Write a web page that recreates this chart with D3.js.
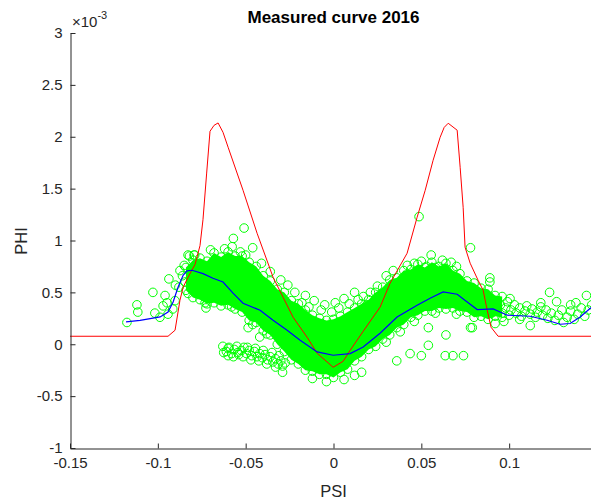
<!DOCTYPE html>
<html>
<head>
<meta charset="utf-8">
<script src="https://cdn.jsdelivr.net/npm/d3@7"></script>
<style>
body { margin: 0; background: #fff; }
text { font-family: "Liberation Sans", Arial, sans-serif; }
</style>
</head>
<body>
<svg id="chart"></svg>
<script>
// PHI values are stored in units of 1e-3 (the axis shows the x10^-3 multiplier)
const xTicks = [-0.15, -0.1, -0.05, 0, 0.05, 0.1];
const yTicks = [-1, -0.5, 0, 0.5, 1, 1.5, 2, 2.5, 3];

// red model curve
const redX = [-0.15, -0.0942, -0.0902, -0.0874, -0.0856, -0.0828, -0.0788, -0.0760, -0.0743, -0.0722, -0.0703, -0.0680, -0.0657, -0.0629, -0.0600, -0.0515, -0.0435, -0.0344, -0.0287, -0.0230, -0.0150, -0.0093, -0.0002, 0.0055, 0.0095, 0.0169, 0.0265, 0.0322, 0.0419, 0.0476, 0.0522, 0.0567, 0.0607, 0.0630, 0.0653, 0.0704, 0.0721, 0.0738, 0.0749, 0.0778, 0.0823, 0.0852, 0.0875, 0.0897, 0.0937, 0.15];
const redY = [0.077, 0.077, 0.135, 0.424, 0.549, 0.646, 0.77, 0.95, 1.20, 1.65, 2.053, 2.11, 2.133, 2.043, 1.899, 1.484, 1.070, 0.646, 0.453, 0.260, 0.067, -0.087, -0.222, -0.164, -0.058, 0.125, 0.357, 0.588, 0.877, 1.224, 1.484, 1.773, 1.995, 2.09, 2.130, 2.063, 1.706, 1.320, 0.935, 0.781, 0.617, 0.520, 0.328, 0.164, 0.077, 0.077];

// blue smoothed measurement
const blueX = [-0.1181, -0.1101, -0.0987, -0.0942, -0.0913, -0.0885, -0.0856, -0.0834, -0.0805, -0.0743, -0.0686, -0.0629, -0.0572, -0.0515, -0.0418, -0.0344, -0.0264, -0.0190, -0.0093, -0.0002, 0.0095, 0.0169, 0.0265, 0.0362, 0.0476, 0.0550, 0.0624, 0.0704, 0.0761, 0.0818, 0.0909, 0.0989, 0.1120, 0.1216, 0.1290, 0.1347, 0.1404, 0.1467];
const blueY = [0.215, 0.231, 0.263, 0.311, 0.408, 0.549, 0.665, 0.707, 0.713, 0.681, 0.636, 0.600, 0.492, 0.395, 0.328, 0.231, 0.135, 0.039, -0.074, -0.106, -0.090, -0.026, 0.106, 0.263, 0.376, 0.443, 0.504, 0.482, 0.408, 0.334, 0.340, 0.280, 0.270, 0.231, 0.193, 0.200, 0.263, 0.354];

// dense part of the measured cloud: upper / lower edges
const bandX = [-0.084, -0.080, -0.076, -0.072, -0.068, -0.064, -0.060, -0.056, -0.052, -0.048, -0.044, -0.040, -0.036, -0.032, -0.028, -0.024, -0.020, -0.016, -0.012, -0.008, -0.004, 0, 0.004, 0.008, 0.012, 0.016, 0.020, 0.024, 0.028, 0.032, 0.036, 0.040, 0.044, 0.048, 0.052, 0.056, 0.060, 0.064, 0.068, 0.072, 0.076, 0.080, 0.084, 0.088, 0.092, 0.096];
const bandUpper = [0.74, 0.81, 0.83, 0.80, 0.88, 0.84, 0.89, 0.85, 0.85, 0.79, 0.75, 0.66, 0.61, 0.53, 0.50, 0.42, 0.39, 0.33, 0.28, 0.25, 0.23, 0.24, 0.27, 0.31, 0.35, 0.39, 0.43, 0.50, 0.55, 0.62, 0.64, 0.71, 0.72, 0.77, 0.74, 0.79, 0.75, 0.78, 0.71, 0.68, 0.61, 0.59, 0.54, 0.53, 0.47, 0.46];
const bandLower = [0.52, 0.45, 0.43, 0.39, 0.40, 0.37, 0.38, 0.34, 0.31, 0.23, 0.21, 0.13, 0.09, 0.00, -0.07, -0.15, -0.19, -0.25, -0.26, -0.29, -0.29, -0.32, -0.27, -0.24, -0.16, -0.12, -0.05, -0.02, 0.05, 0.09, 0.16, 0.19, 0.26, 0.28, 0.32, 0.32, 0.35, 0.34, 0.35, 0.32, 0.31, 0.26, 0.27, 0.24, 0.27, 0.26];

// single circles around the dense part
const leftPts = [[-0.1176, 0.21], [-0.1119, 0.38], [-0.1114, 0.31], [-0.1028, 0.50], [-0.1017, 0.30], [-0.0988, 0.26], [-0.0959, 0.47], [-0.0948, 0.40], [-0.0937, 0.63], [-0.0942, 0.29], [-0.0902, 0.42], [-0.0874, 0.71], [-0.0828, 0.86], [-0.0794, 0.86], [-0.0828, 0.49], [-0.0737, 0.49], [-0.0731, 0.40], [-0.0726, 0.35], [-0.0880, 0.55], [-0.0860, 0.66], [-0.0850, 0.76], [-0.0900, 0.57], [-0.0845, 0.60], [-0.0915, 0.34], [-0.0970, 0.37]];
const lowerBranch = [[-0.0630, -0.02], [-0.0610, -0.07], [-0.0595, -0.03], [-0.0580, -0.09], [-0.0565, -0.05], [-0.0550, -0.02], [-0.0540, -0.10], [-0.0525, -0.06], [-0.0510, -0.03], [-0.0495, -0.09], [-0.0480, -0.06], [-0.0465, -0.11], [-0.0450, -0.07], [-0.0435, -0.12], [-0.0420, -0.09], [-0.0405, -0.13], [-0.0390, -0.10], [-0.0375, -0.15], [-0.0360, -0.12], [-0.0345, -0.17], [-0.0330, -0.14], [-0.0315, -0.19], [-0.0300, -0.16], [-0.0290, -0.21], [-0.0275, -0.18], [-0.0290, -0.27], [-0.0600, -0.11], [-0.0625, -0.08], [-0.0600, -0.04], [-0.0570, -0.12], [-0.0545, -0.08], [-0.0515, -0.12], [-0.0490, -0.03], [-0.0470, -0.15], [-0.0445, -0.04], [-0.0425, -0.16], [-0.0400, -0.06], [-0.0380, -0.19], [-0.0350, -0.08], [-0.0330, -0.22], [-0.0310, -0.11]];
const rightPts = [[0.086, 0.42], [0.088, 0.36], [0.090, 0.30], [0.091, 0.40], [0.093, 0.33], [0.095, 0.38], [0.096, 0.30], [0.098, 0.35], [0.099, 0.41], [0.100, 0.28], [0.101, 0.33], [0.103, 0.38], [0.104, 0.30], [0.106, 0.35], [0.107, 0.27], [0.109, 0.32], [0.110, 0.37], [0.112, 0.29], [0.113, 0.34], [0.115, 0.26], [0.116, 0.31], [0.118, 0.36], [0.119, 0.28], [0.121, 0.33], [0.122, 0.25], [0.124, 0.30], [0.126, 0.23], [0.128, 0.28], [0.130, 0.33], [0.131, 0.21], [0.133, 0.26], [0.135, 0.32], [0.137, 0.24], [0.139, 0.29], [0.141, 0.35], [0.143, 0.27], [0.145, 0.33], [0.147, 0.38], [0.112, 0.18], [0.1005, 0.44], [0.118, 0.40], [0.123, 0.50], [0.127, 0.41], [0.135, 0.38], [0.138, 0.40], [0.144, 0.47], [0.089, 0.60], [0.079, 0.16], [0.097, 0.22], [0.106, 0.24], [0.092, 0.20]];
const outliers = [[-0.0509, 1.12], [-0.057, 1.02], [-0.0577, 0.94], [-0.046, 0.93], [-0.053, 0.89], [-0.082, 0.85], [-0.079, 0.86], [0.0487, 1.23], [0.078, 0.93], [0.0556, 0.86], [0.046, 0.78], [0.067, 0.79], [0.053, 0.75], [0.058, 0.74], [0.089, 0.64], [0.0436, -0.09], [0.050, -0.11], [0.0636, -0.11], [0.068, -0.11], [0.074, -0.11], [0.036, -0.16], [0.054, -0.01], [0.054, 0.16], [0.064, 0.09], [0.078, 0.16], [0.016, -0.27], [-0.030, 0.62], [-0.026, 0.57], [-0.022, 0.50], [-0.016, 0.47], [-0.011, 0.42], [-0.005, 0.38], [0.001, 0.40], [0.006, 0.44], [0.012, 0.50], [0.017, 0.46], [-0.036, 0.70], [-0.041, 0.78], [0.030, 0.66], [0.034, 0.71], [-0.0486, 0.16], [-0.058, 0.36], [-0.042, 0.07], [-0.012, -0.33], [-0.004, -0.36], [0.006, -0.34], [0.012, -0.30], [-0.014, 0.36], [-0.007, 0.33], [-0.001, 0.31], [0.003, 0.35], [0.009, 0.39], [0.014, 0.43], [0.021, 0.50], [0.025, 0.56], [-0.018, 0.40], [0.019, 0.38], [0.027, 0.45], [-0.070, 0.91], [-0.062, 0.92], [-0.050, 0.86], [0.042, 0.76], [0.050, 0.80], [0.062, 0.81], [0.070, 0.75], [-0.046, 0.19], [-0.038, 0.10], [0.030, 0.02], [0.038, 0.12], [0.046, 0.22], [0.058, 0.30], [0.070, 0.29]];

const width = 591, height = 502;
const svg = d3.select("#chart").attr("width", width).attr("height", height);

const x = d3.scaleLinear().domain([-0.15, 0.15]).range([70, 597]);
const y = d3.scaleLinear().domain([-1, 3]).range([448, 33]);

svg.append("defs").append("clipPath").attr("id", "plotClip")
    .append("rect").attr("x", 70).attr("y", 33).attr("width", 527).attr("height", 415);

const plot = svg.append("g").attr("clip-path", "url(#plotClip)");

// dense cloud as filled band
const band = bandX.map((d, i) => ({ x: d, hi: bandUpper[i], lo: bandLower[i] }));
plot.append("path")
    .datum(band)
    .attr("fill", "#00ff00")
    .attr("d", d3.area().x(d => x(d.x)).y0(d => y(d.lo)).y1(d => y(d.hi)));

// circles
const circlePts = []
    .concat(band.map(d => [d.x, d.hi]))
    .concat(band.map(d => [d.x, d.lo]))
    .concat(leftPts, lowerBranch, rightPts, outliers);

plot.selectAll(".pt")
    .data(circlePts)
    .enter()
    .append("circle")
    .attr("class", "pt")
    .attr("cx", d => x(d[0]))
    .attr("cy", d => y(d[1]))
    .attr("r", 4.3)
    .attr("fill", "none")
    .attr("stroke", "#00ff00")
    .attr("stroke-width", 1);

const line = d3.line().x(d => x(d[0])).y(d => y(d[1]));

plot.append("path")
    .datum(redX.map((d, i) => [d, redY[i]]))
    .attr("fill", "none")
    .attr("stroke", "#ff0000")
    .attr("stroke-width", 1)
    .attr("d", line);

plot.append("path")
    .datum(blueX.map((d, i) => [d, blueY[i]]))
    .attr("fill", "none")
    .attr("stroke", "#0000ff")
    .attr("stroke-width", 1.2)
    .attr("d", line);

// axes, ticks pointing inward like MATLAB
const axisColor = "#262626";

const xAxis = svg.append("g")
    .attr("transform", `translate(0,${448.5})`)
    .call(d3.axisBottom(x).tickValues(xTicks).tickSizeInner(-5).tickSizeOuter(0).tickPadding(9).tickFormat(d => String(d)));

const yAxis = svg.append("g")
    .attr("transform", `translate(${70.5},0)`)
    .call(d3.axisLeft(y).tickValues(yTicks).tickSizeInner(-5).tickSizeOuter(0).tickPadding(8).tickFormat(d => String(d)));

[xAxis, yAxis].forEach(g => {
    g.selectAll("path").attr("stroke", axisColor);
    g.selectAll("line").attr("stroke", axisColor);
    g.selectAll("text")
        .attr("fill", axisColor)
        .style("font-size", "15px")
        .style("font-family", "'Liberation Sans', Arial, sans-serif");
});

// exponent label
const expo = svg.append("text")
    .attr("x", 72)
    .attr("y", 27)
    .attr("fill", axisColor)
    .style("font-size", "15px");
expo.append("tspan").text("\u00d710");
expo.append("tspan").attr("dy", -8).style("font-size", "11px").text("-3");

// title and axis labels
svg.append("text")
    .attr("x", 333.5)
    .attr("y", 23)
    .attr("text-anchor", "middle")
    .attr("fill", "#000")
    .style("font-size", "17px")
    .style("font-weight", "bold")
    .text("Measured curve 2016");

svg.append("text")
    .attr("x", 333.5)
    .attr("y", 497)
    .attr("text-anchor", "middle")
    .attr("fill", axisColor)
    .style("font-size", "16.5px")
    .text("PSI");

svg.append("text")
    .attr("transform", "translate(27,241) rotate(-90)")
    .attr("text-anchor", "middle")
    .attr("fill", axisColor)
    .style("font-size", "16.5px")
    .text("PHI");
</script>
</body>
</html>
